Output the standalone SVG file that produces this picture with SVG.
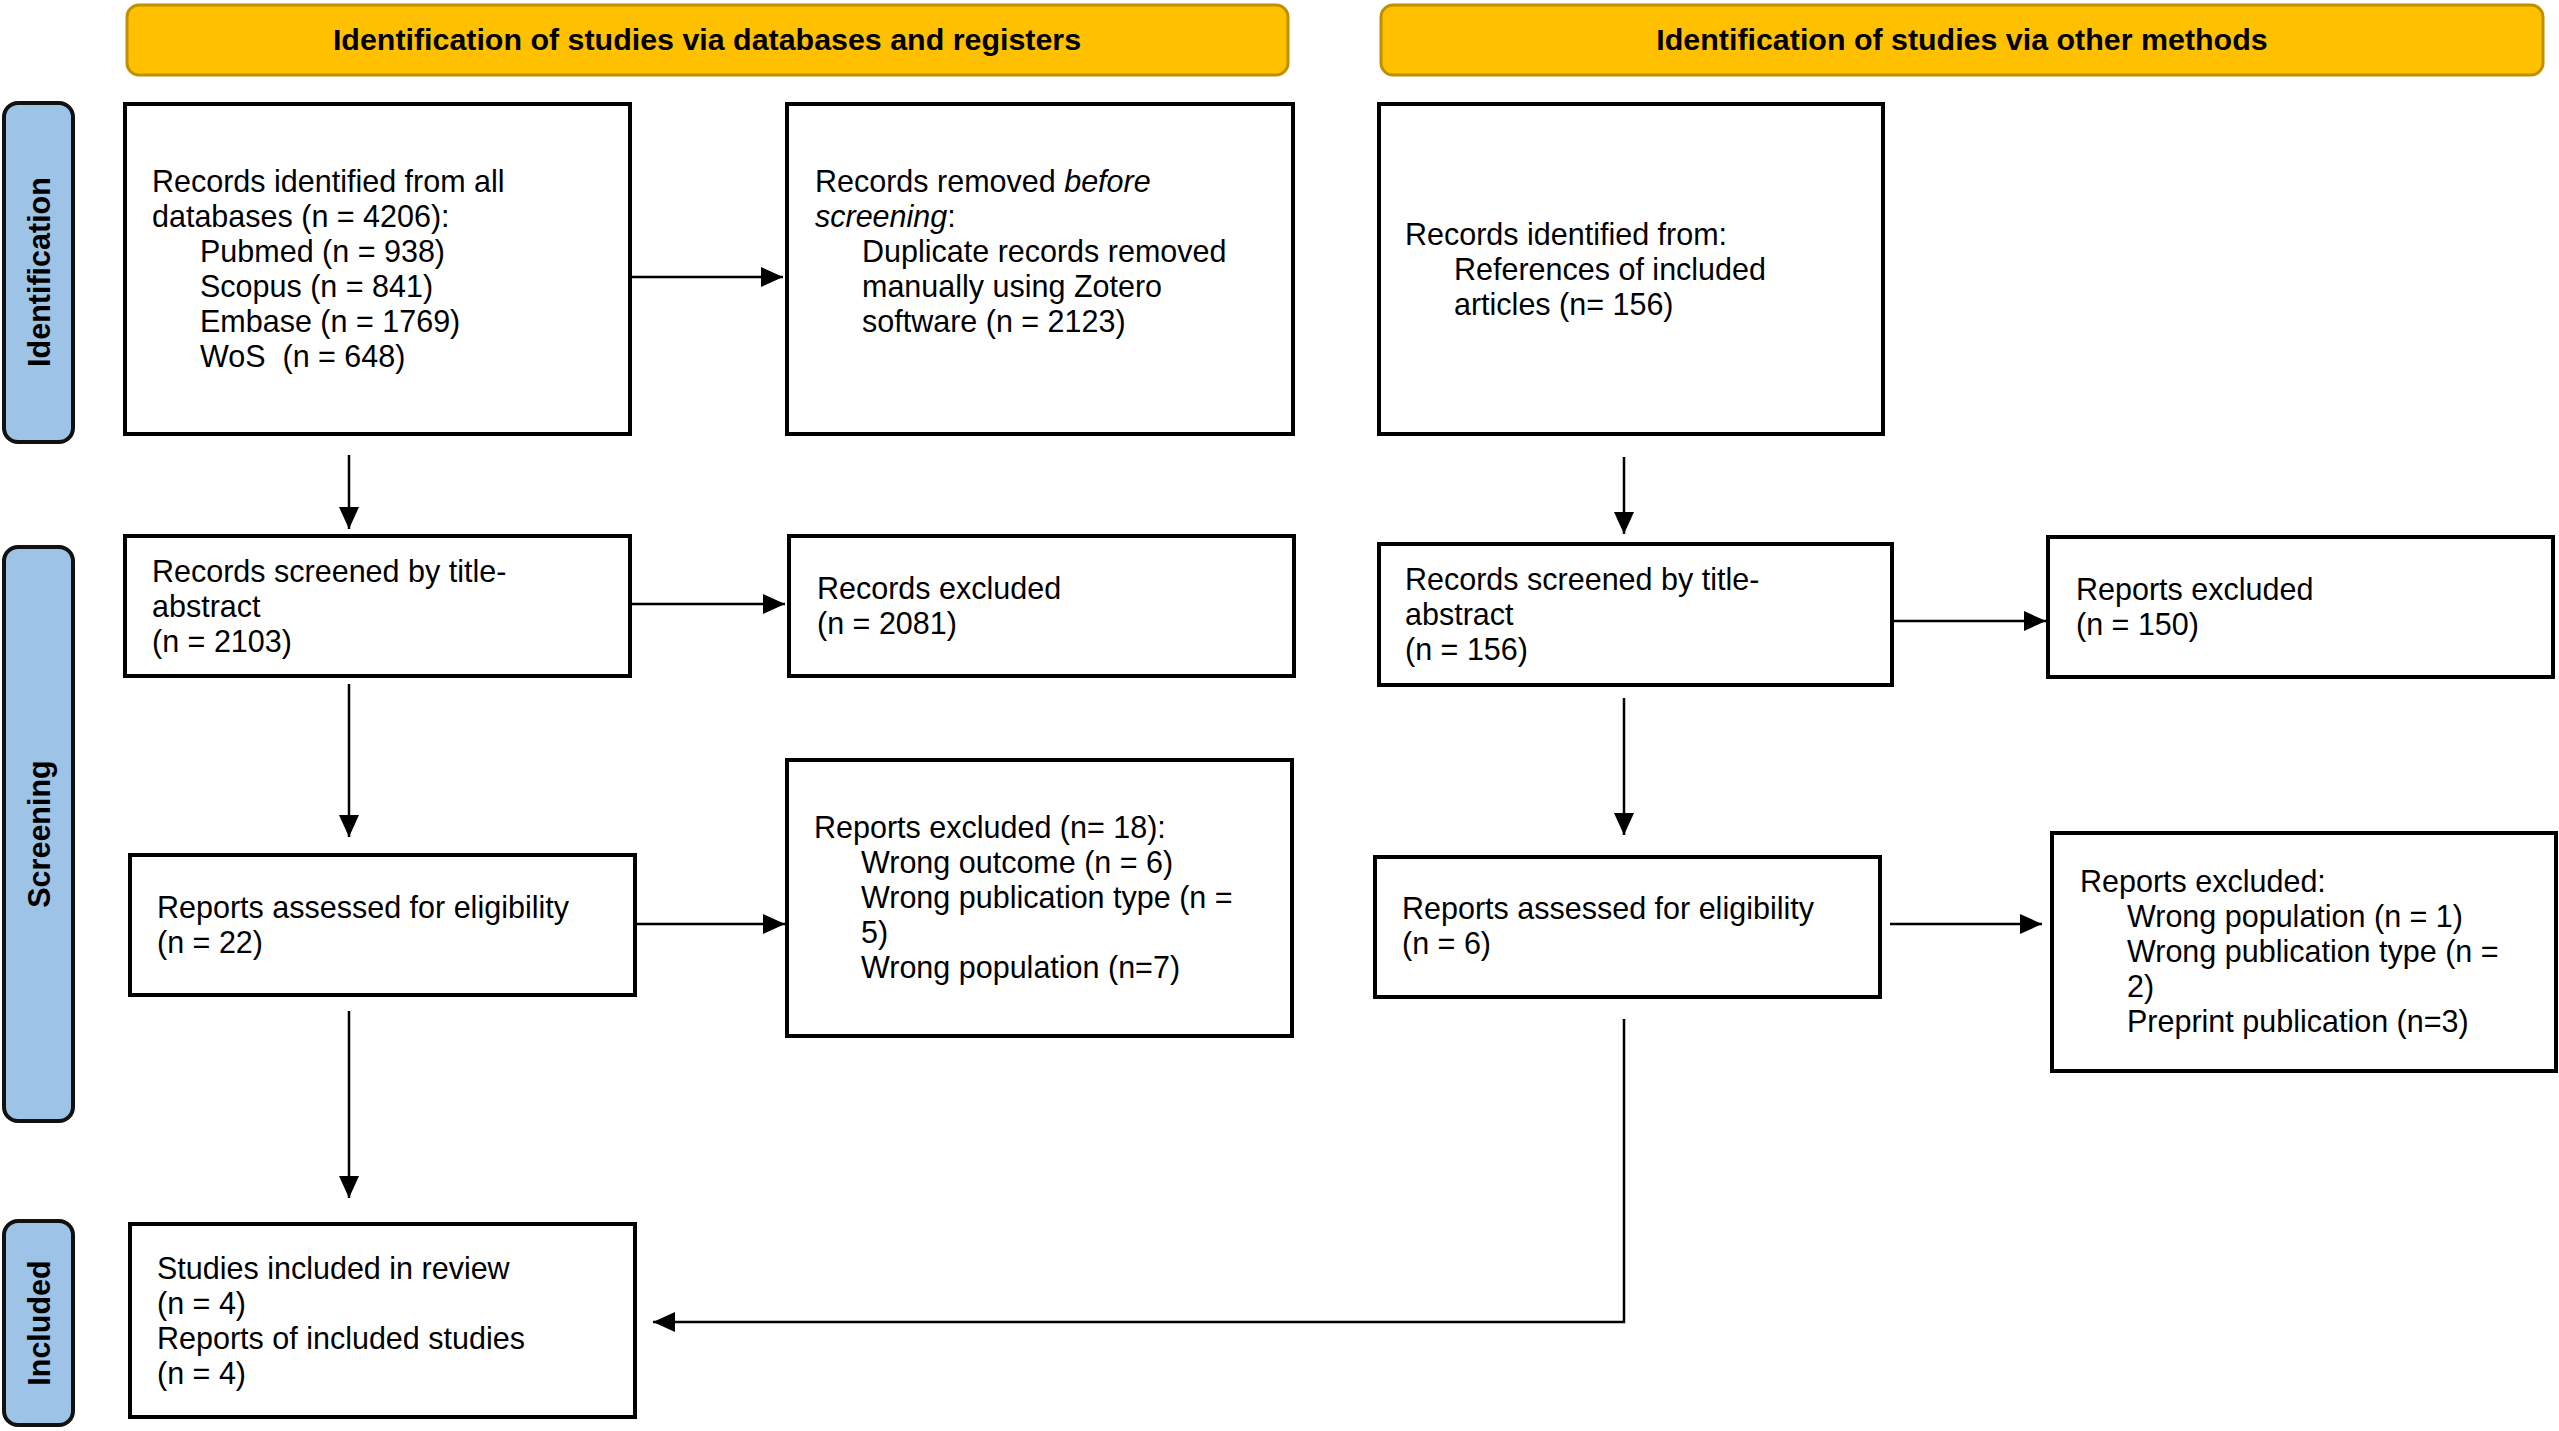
<svg xmlns="http://www.w3.org/2000/svg" width="2559" height="1431" viewBox="0 0 2559 1431">
<style>
.hdr{fill:#FFC000;stroke:#BF9000;stroke-width:3}
.hdrt{font-family:"Liberation Sans",Arial,sans-serif;font-size:30.4px;font-weight:bold;fill:#000;text-anchor:middle}
.side{fill:#9DC3E6;stroke:#111;stroke-width:4}
.sidet{font-family:"Liberation Sans",Arial,sans-serif;font-size:30.5px;font-weight:bold;fill:#000;text-anchor:middle}
.box{fill:#fff;stroke:#000;stroke-width:4}
.t{font-family:"Liberation Sans",Arial,sans-serif;font-size:30.5px;fill:#000}
.conn{fill:none;stroke:#000;stroke-width:2.5}
</style>
<defs>
<marker id="ah" markerUnits="userSpaceOnUse" markerWidth="22" markerHeight="20" refX="22" refY="10" orient="auto">
<path d="M0,0 L22,10 L0,20 z" fill="#000"/>
</marker>
</defs>
<rect width="2559" height="1431" fill="#fff"/>

<g id="header-left">
<rect class="hdr" x="127" y="5" width="1161" height="70" rx="12"/>
<text class="hdrt" x="707" y="50">Identification of studies via databases and registers</text>
</g>
<g id="header-right">
<rect class="hdr" x="1381" y="5" width="1162" height="70" rx="12"/>
<text class="hdrt" x="1962" y="50">Identification of studies via other methods</text>
</g>

<g id="side-identification">
<rect class="side" x="4" y="103" width="69" height="339" rx="14"/>
<text class="sidet" transform="translate(50,272) rotate(-90)">Identification</text>
</g>
<g id="side-screening">
<rect class="side" x="4" y="547" width="69" height="574" rx="14"/>
<text class="sidet" transform="translate(50,834) rotate(-90)">Screening</text>
</g>
<g id="side-included">
<rect class="side" x="4" y="1221" width="69" height="204" rx="14"/>
<text class="sidet" transform="translate(50,1323) rotate(-90)">Included</text>
</g>

<g id="box-records-identified">
<rect class="box" x="125" y="104" width="505" height="330"/>
<text class="t" x="152" y="192">Records identified from all</text>
<text class="t" x="152" y="227">databases (n = 4206):</text>
<text class="t" x="200" y="262">Pubmed (n = 938)</text>
<text class="t" x="200" y="297">Scopus (n = 841)</text>
<text class="t" x="200" y="332">Embase (n = 1769)</text>
<text class="t" x="200" y="367" xml:space="preserve">WoS  (n = 648)</text>
</g>

<g id="box-records-removed">
<rect class="box" x="787" y="104" width="506" height="330"/>
<text class="t" x="815" y="192">Records removed <tspan font-style="italic">before</tspan></text>
<text class="t" x="815" y="227"><tspan font-style="italic">screening</tspan>:</text>
<text class="t" x="862" y="262">Duplicate records removed</text>
<text class="t" x="862" y="297">manually using Zotero</text>
<text class="t" x="862" y="332">software (n = 2123)</text>
</g>

<g id="box-other-identified">
<rect class="box" x="1379" y="104" width="504" height="330"/>
<text class="t" x="1405" y="245">Records identified from:</text>
<text class="t" x="1454" y="280">References of included</text>
<text class="t" x="1454" y="315">articles (n= 156)</text>
</g>

<g id="box-screened-left">
<rect class="box" x="125" y="536" width="505" height="140"/>
<text class="t" x="152" y="582">Records screened by title-</text>
<text class="t" x="152" y="617">abstract</text>
<text class="t" x="152" y="652">(n = 2103)</text>
</g>

<g id="box-excluded-left">
<rect class="box" x="789" y="536" width="505" height="140"/>
<text class="t" x="817" y="599">Records excluded</text>
<text class="t" x="817" y="634">(n = 2081)</text>
</g>

<g id="box-screened-right">
<rect class="box" x="1379" y="544" width="513" height="141"/>
<text class="t" x="1405" y="590">Records screened by title-</text>
<text class="t" x="1405" y="625">abstract</text>
<text class="t" x="1405" y="660">(n = 156)</text>
</g>

<g id="box-excluded-right">
<rect class="box" x="2048" y="537" width="505" height="140"/>
<text class="t" x="2076" y="600">Reports excluded</text>
<text class="t" x="2076" y="635">(n = 150)</text>
</g>

<g id="box-assessed-left">
<rect class="box" x="130" y="855" width="505" height="140"/>
<text class="t" x="157" y="918">Reports assessed for eligibility</text>
<text class="t" x="157" y="953">(n = 22)</text>
</g>

<g id="box-reports-excluded-left">
<rect class="box" x="787" y="760" width="505" height="276"/>
<text class="t" x="814" y="838">Reports excluded (n= 18):</text>
<text class="t" x="861" y="873">Wrong outcome (n = 6)</text>
<text class="t" x="861" y="908">Wrong publication type (n =</text>
<text class="t" x="861" y="943">5)</text>
<text class="t" x="861" y="978">Wrong population (n=7)</text>
</g>

<g id="box-assessed-right">
<rect class="box" x="1375" y="857" width="505" height="140"/>
<text class="t" x="1402" y="919">Reports assessed for eligibility</text>
<text class="t" x="1402" y="954">(n = 6)</text>
</g>

<g id="box-reports-excluded-right">
<rect class="box" x="2052" y="833" width="504" height="238"/>
<text class="t" x="2080" y="892">Reports excluded:</text>
<text class="t" x="2127" y="927">Wrong population (n = 1)</text>
<text class="t" x="2127" y="962">Wrong publication type (n =</text>
<text class="t" x="2127" y="997">2)</text>
<text class="t" x="2127" y="1032">Preprint publication (n=3)</text>
</g>

<g id="box-included">
<rect class="box" x="130" y="1224" width="505" height="193"/>
<text class="t" x="157" y="1279">Studies included in review</text>
<text class="t" x="157" y="1314">(n = 4)</text>
<text class="t" x="157" y="1349">Reports of included studies</text>
<text class="t" x="157" y="1384">(n = 4)</text>
</g>

<g id="connectors">
<path class="conn" d="M630,277 H783" marker-end="url(#ah)"/>
<path class="conn" d="M349,455 V529" marker-end="url(#ah)"/>
<path class="conn" d="M630,604 H785" marker-end="url(#ah)"/>
<path class="conn" d="M349,684 V837" marker-end="url(#ah)"/>
<path class="conn" d="M635,924 H785" marker-end="url(#ah)"/>
<path class="conn" d="M349,1011 V1198" marker-end="url(#ah)"/>
<path class="conn" d="M1624,457 V534" marker-end="url(#ah)"/>
<path class="conn" d="M1894,621 H2046" marker-end="url(#ah)"/>
<path class="conn" d="M1624,698 V835" marker-end="url(#ah)"/>
<path class="conn" d="M1890,924 H2042" marker-end="url(#ah)"/>
<path class="conn" d="M1624,1019 V1322 H653" marker-end="url(#ah)"/>
</g>
</svg>
